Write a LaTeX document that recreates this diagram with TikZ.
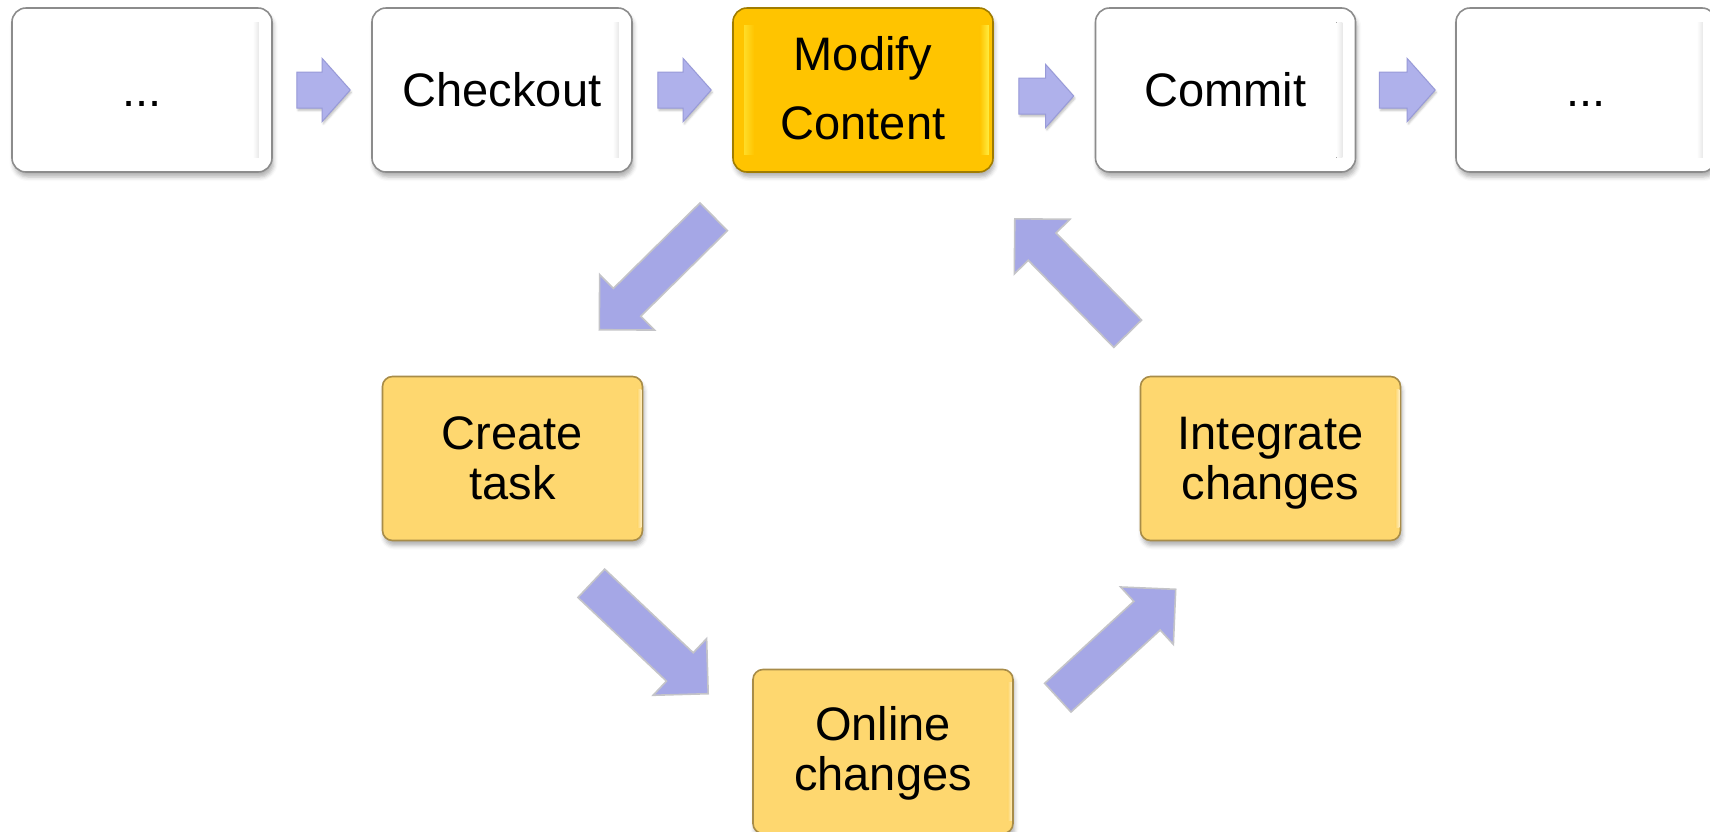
\documentclass[tikz,border=0pt]{standalone}
\usepackage{fontspec}
\setmainfont{Liberation Sans}
\usetikzlibrary{calc,shadows.blur}
\definecolor{harrow}{HTML}{AFB1EB}
\definecolor{harrowedge}{HTML}{989AD8}
\definecolor{darrow}{HTML}{A5A7E6}
\definecolor{darrowedge}{HTML}{C4C4C8}
\definecolor{gold}{HTML}{FFC400}
\definecolor{goldedge}{HTML}{A07C00}
\definecolor{goldlight}{HTML}{FFEC40}
\definecolor{ybox}{HTML}{FED76F}
\definecolor{yboxedge}{HTML}{A88C48}
\definecolor{wboxedge}{HTML}{8C8C8C}
\newcommand{\myblockarrow}[6]{%
  \path ($(#3)!#6!(#2)$) coordinate (bah);
  \draw[#1] ($(#2)!#4!90:(#3)$) -- ($(bah)!#4!90:(#3)$) -- ($(bah)!#5!90:(#3)$) -- (#3)
    -- ($(bah)!#5!-90:(#3)$) -- ($(bah)!#4!-90:(#3)$) -- ($(#2)!#4!-90:(#3)$) -- cycle;
}
\tikzset{
  procbox/.style={minimum width=130pt, minimum height=82pt, inner sep=0pt, align=center,
    font=\fontsize{23.5pt}{25pt}\selectfont, line width=0.8pt,
    blur shadow={shadow xshift=0.8pt, shadow yshift=-2.5pt, shadow blur radius=2pt, shadow opacity=30}},
  whitebox/.style={procbox, fill=white, draw=wboxedge, rounded corners=7pt},
  goldbox/.style={procbox, fill=gold, draw=goldedge, rounded corners=7pt, font=\fontsize{23.5pt}{34.5pt}\selectfont},
  yellowbox/.style={procbox, fill=ybox, draw=yboxedge, rounded corners=5pt},
  harrowstyle/.style={fill=harrow, draw=harrowedge, line width=0.5pt, line join=miter,
    blur shadow={shadow xshift=0.6pt, shadow yshift=-1.2pt, shadow blur radius=1pt, shadow opacity=25}},
  darrowstyle/.style={fill=darrow, draw=darrowedge, line width=0.8pt, line join=miter},
}
\begin{document}
\begin{tikzpicture}[x=0.5pt, y=-0.5pt]
\useasboundingbox (0,0) rectangle (1710,831);
\clip (0,0) rectangle (1710,831);
% boxes
\node[whitebox] (b1) at (142,90) {\vphantom{C}...};
\node[whitebox] (b2) at (502,90) {Checkout};
\node[goldbox] (mod) at (863,90) {Modify\\Content\rule[-2.2pt]{0pt}{0pt}};
\node[whitebox] (b4) at (1225.5,90) {Commit};
\node[whitebox] (b5) at (1586,90) {\vphantom{C}...};
\node[yellowbox] (ct) at (512.5,458.5) {Create\\task};
\node[yellowbox] (ic) at (1270.5,458.5) {Integrate\\\raisebox{0pt}[\height][0pt]{changes}};
\node[yellowbox] (oc) at (883,751.5) {Online\\\raisebox{0pt}[\height][2.8pt]{changes}};
% bevels
\foreach \b in {b1,b2,b4,b5}{
  \fill[left color=white, right color=black!9] ($(\b.north east)+(-20,15)$) rectangle ($(\b.south east)+(-14,-15)$);
}
\fill[left color=gold, right color=goldlight] ($(mod.north east)+(-14,18)$) rectangle ($(mod.south east)+(-5,-18)$);
\fill[left color=goldlight!60!gold, right color=gold] ($(mod.north west)+(12,18)$) rectangle ($(mod.south west)+(22,-18)$);
\foreach \b in {ct,ic,oc}{
  \fill[left color=ybox, right color=ybox!45!white] ($(\b.north east)+(-6,14)$) rectangle ($(\b.south east)+(-2,-14)$);
}
% horizontal connectors
\coordinate (h1s) at ($(b1.east)+(24,0)$);  \coordinate (h1e) at ($(b2.west)+(-21,0)$);
\coordinate (h2s) at ($(b2.east)+(25,0)$);  \coordinate (h2e) at ($(mod.west)+(-21,0)$);
\coordinate (h3s) at ($(mod.east)+(25,6)$); \coordinate (h3e) at ($(b4.west)+(-21,6)$);
\coordinate (h4s) at ($(b4.east)+(23,0)$);  \coordinate (h4e) at ($(b5.west)+(-20,0)$);
\myblockarrow{harrowstyle}{h1s}{h1e}{9pt}{15.75pt}{14pt}
\myblockarrow{harrowstyle}{h2s}{h2e}{9pt}{15.75pt}{14pt}
\myblockarrow{harrowstyle}{h3s}{h3e}{9pt}{15.75pt}{14pt}
\myblockarrow{harrowstyle}{h4s}{h4e}{9pt}{15.75pt}{14pt}
% cycle connectors
\coordinate (dAs) at ($(mod.south west)+(-18.5,44)$); \coordinate (dAe) at ($(ct.north east)+(-44,-46)$);
\coordinate (dBs) at ($(ct.south east)+(-52,42)$);    \coordinate (dBe) at ($(oc.north west)+(-44,25)$);
\coordinate (dCs) at ($(oc.north east)+(44,29)$);     \coordinate (dCe) at ($(ic.south west)+(36,48)$);
\coordinate (dDs) at ($(ic.north west)+(-12,-42)$);   \coordinate (dDe) at ($(mod.south east)+(21,46)$);
\myblockarrow{darrowstyle}{dAs}{dAe}{9.75pt}{19.5pt}{19.5pt}
\myblockarrow{darrowstyle}{dBs}{dBe}{9.75pt}{19.5pt}{19.5pt}
\myblockarrow{darrowstyle}{dCs}{dCe}{9.75pt}{19.5pt}{19.5pt}
\myblockarrow{darrowstyle}{dDs}{dDe}{9.75pt}{19.5pt}{19.5pt}
\end{tikzpicture}
\end{document}
